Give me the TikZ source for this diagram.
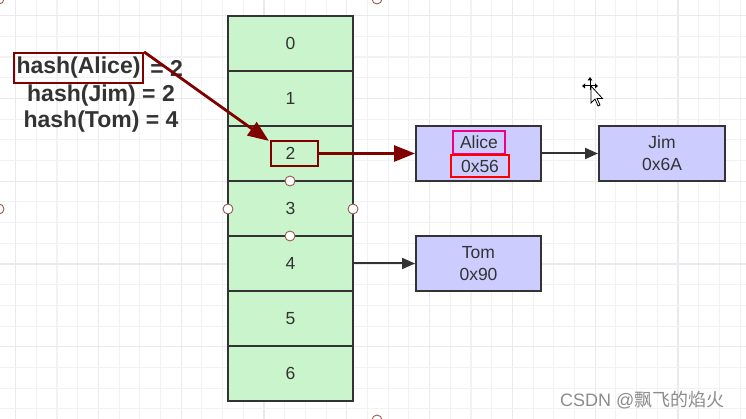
\documentclass[tikz,border=0pt]{standalone}
\usepackage{fontspec}
\setmainfont{Liberation Sans}
\newfontfamily\cjkfont{Noto Sans CJK SC}
\usetikzlibrary{arrows.meta}
\definecolor{gridminor}{RGB}{242,242,244}
\definecolor{gridmajor}{RGB}{234,234,238}
\definecolor{cellgreen}{RGB}{202,245,204}
\definecolor{boxblue}{RGB}{204,204,255}
\definecolor{ink}{RGB}{51,51,51}
\definecolor{darkred}{RGB}{128,0,0}
\definecolor{handle}{RGB}{150,90,80}
\definecolor{wm}{RGB}{140,140,140}
\tikzset{
  cell/.style={draw=ink, line width=2pt, fill=cellgreen, minimum width=125pt, minimum height=55pt, inner sep=0pt, font=\fontsize{17.5}{20}\selectfont, text=ink},
  entry/.style={draw=ink, line width=2pt, fill=boxblue, minimum width=125pt, minimum height=55pt, inner sep=0pt, font=\fontsize{17.5}{22}\selectfont, text=ink, align=center},
  hl/.style={line width=2pt, minimum height=23pt, inner sep=0pt, font=\fontsize{17.5}{20}\selectfont, text=ink},
  hashtxt/.style={font=\bfseries\fontsize{23}{26}\selectfont, text=ink, inner sep=0pt},
  redarrow/.style={draw=darkred, line width=2.8pt, -{Triangle[length=21pt,width=16pt]}},
  blkarrow/.style={draw=ink, line width=2pt, -{Triangle[length=13pt,width=11pt]}},
  handlec/.style={draw=handle, fill=white, line width=0.9pt},
}
\begin{document}
\begin{tikzpicture}[x=1pt,y=-1pt]
\useasboundingbox (0,0) rectangle (746,419);
\clip (0,0) rectangle (746,419);
\fill[white] (0,0) rectangle (746,419);
% grid
\foreach \k in {0,...,35} {
  \pgfmathsetmacro\xx{15.6+20.7*\k}
  \pgfmathtruncatemacro\mm{mod(\k,4)}
  \ifnum\mm=0
    \draw[gridmajor, line width=1.2pt] (\xx,0) -- (\xx,419);
  \else
    \draw[gridminor, line width=1.1pt] (\xx,0) -- (\xx,419);
  \fi
}
\foreach \k in {0,...,19} {
  \pgfmathsetmacro\yy{15.6+20.7*\k}
  \pgfmathtruncatemacro\mm{mod(\k,4)}
  \ifnum\mm=0
    \draw[gridmajor, line width=1.2pt] (0,\yy) -- (746,\yy);
  \else
    \draw[gridminor, line width=1.1pt] (0,\yy) -- (746,\yy);
  \fi
}
% table
\foreach \i in {0,...,6} {
  \node[cell] (r\i) at (290.5,{43.5+55*\i}) {\i};
}
% entries
\node[entry] (alice) at (478.5,153.5) {};
\node[hl, draw=magenta, minimum width=52pt] (aliceName) at (479,142.5) {Alice};
\node[hl, draw=red, minimum width=58pt, minimum height=22pt] (aliceAddr) at (480,166) {0x56};
\node[entry, minimum width=126pt] (jim) at (662,153.5) {Jim\\0x6A};
\node[entry] (tom) at (478.5,263.5) {Tom\\0x90};
% hash text
\node[hashtxt, draw=darkred, line width=2.2pt, minimum width=129pt, minimum height=30pt] (hashA) at (78.5,68) {hash(Alice)};
\node[hashtxt, anchor=west] (eqA) at ([xshift=6pt]hashA.east) {= 2};
\node[hashtxt] (hashJ) at (101,96) {hash(Jim) = 2};
\node[hashtxt] (hashT) at (101,122) {hash(Tom) = 4};
% box around 2
\node[draw=darkred, line width=2.2pt, minimum width=47pt, minimum height=25pt, inner sep=0pt] (twoBox) at (294.5,153.5) {};
% arrows
\draw[redarrow] (hashA.north east) -- ([xshift=-1pt,yshift=-1pt]twoBox.north west);
\draw[redarrow] (twoBox.east) -- (alice.west);
\draw[blkarrow] (alice.east) -- (jim.west);
\coordinate (r4e) at (r4.east);
\draw[blkarrow] (r4e) -- (tom.west);
% selection handles
\foreach \p in {(290,181),(290,236),(228,209),(353,209),(377,-1),(-1,209),(377,420),(-1,-1)} {
  \draw[handlec] \p circle (5pt);
}
% cursor
\begin{scope}[shift={(590,86)}]
  \draw[black, line width=1pt] (-6,0) -- (6,0);
  \draw[black, line width=1pt] (0,-7) -- (0,4);
  \fill[black] (0,-9) -- (-2.5,-5.5) -- (2.5,-5.5) -- cycle;
  \fill[black] (-8,0) -- (-5,-2.5) -- (-5,2.5) -- cycle;
  \fill[black] (8,0) -- (5,-2.5) -- (5,2.5) -- cycle;
  \draw[black, fill=white, line width=0.8pt, line join=miter] (1,0) -- (1,17) -- (5,13) -- (8,20) -- (10,19) -- (7,12.5) -- (12.5,12.5) -- cycle;
\end{scope}
% watermark
\node[anchor=west, text=wm, font=\fontsize{18}{20}\selectfont, inner sep=0pt] (wmark) at (560,400) {CSDN @{\cjkfont 飘飞的焰火}};
\end{tikzpicture}
\end{document}
